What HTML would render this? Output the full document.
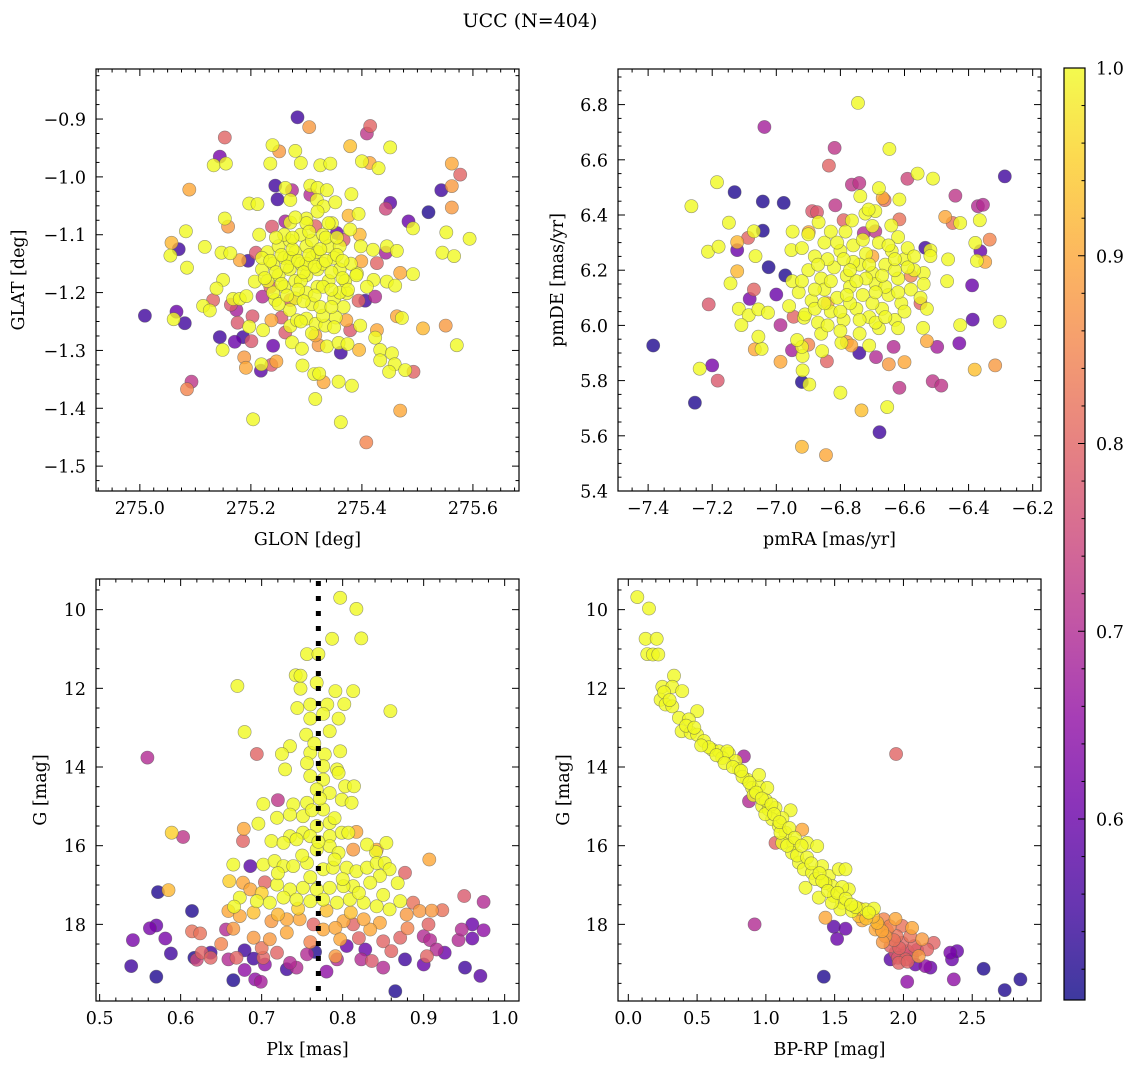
<!DOCTYPE html>
<html><head><meta charset="utf-8"><style>
html,body{margin:0;padding:0;background:#fff;}
svg{display:block;font-family:"DejaVu Serif","Liberation Serif",serif;}
</style></head><body>
<svg id="fig" width="1136" height="1068" viewBox="0 0 1136 1068" xmlns="http://www.w3.org/2000/svg">
<defs><linearGradient id="cbgrad" x1="0" y1="1" x2="0" y2="0"></linearGradient></defs>
<text x="530" y="27" font-size="19" text-anchor="middle">UCC (N=404)</text>
</svg>
<script>
// ---------- data: [x, y, membership probability] ----------
const glonGlatPoints = [
[275.284,-0.897,.55],[275.305,-0.914,.88],[275.415,-0.912,.8],[275.409,-0.925,.72],[275.153,-0.932,.8],[275.144,-0.965,.62],
[275.239,-0.945,1],[275.251,-0.956,.88],[275.28,-0.955,1],[275.379,-0.947,.93],[275.451,-0.949,1],[275.562,-0.977,.9],
[275.577,-0.996,.8],[275.562,-1.016,.88],[275.543,-1.023,.55],[275.562,-1.053,.88],[275.52,-1.061,.52],[275.133,-0.98,1],
[275.155,-0.977,1],[275.235,-0.977,1],[275.29,-0.976,1],[275.325,-0.98,1],[275.343,-0.977,1],[275.4,-0.973,1],[275.414,-0.976,.9],
[275.43,-0.985,1],[275.089,-1.022,.9],[275.244,-1.015,.55],[275.262,-1.019,1],[275.274,-1.023,.7],[275.248,-1.039,.55],
[275.271,-1.04,1],[275.307,-1.015,1],[275.32,-1.019,1],[275.337,-1.023,1],[275.307,-1.031,.7],[275.319,-1.04,1],[275.331,-1.051,1],
[275.352,-1.044,1],[275.381,-1.03,1],[275.197,-1.046,1],[275.212,-1.047,1],[275.451,-1.045,.58],[275.443,-1.055,.75],
[275.484,-1.077,.6],[275.492,-1.089,1],[275.552,-1.096,1],[275.594,-1.107,1],[275.545,-1.131,1],[275.566,-1.137,1],
[275.153,-1.072,1],[275.159,-1.086,.88],[275.083,-1.094,1],[275.057,-1.114,.92],[275.07,-1.125,.55],[275.055,-1.136,1],
[275.085,-1.157,1],[275.117,-1.121,1],[275.147,-1.131,1],[275.163,-1.132,1],[275.18,-1.144,.9],[275.195,-1.145,.55],
[275.209,-1.131,.78],[275.215,-1.1,1],[275.238,-1.086,.78],[275.262,-1.077,.68],[275.271,-1.079,1],[275.3,-1.072,1],
[275.316,-1.085,.8],[275.346,-1.08,1],[275.376,-1.067,.92],[275.394,-1.064,1],[275.379,-1.091,1],[275.396,-1.1,.92],
[275.355,-1.097,.6],[275.367,-1.109,.78],[275.398,-1.12,1],[275.42,-1.126,1],[275.445,-1.12,1],[275.463,-1.128,1],
[275.443,-1.131,.68],[275.427,-1.149,.8],[275.399,-1.146,.9],[275.391,-1.167,1],[275.469,-1.166,.9],[275.492,-1.168,1],
[275.445,-1.181,1],[275.46,-1.188,1],[275.421,-1.178,1],[275.409,-1.19,1],[275.424,-1.207,.7],[275.406,-1.214,.55],
[275.394,-1.214,.8],[275.373,-1.201,1],[275.367,-1.225,1],[275.15,-1.178,1],[275.138,-1.193,1],[275.132,-1.213,.8],
[275.114,-1.223,1],[275.126,-1.231,1],[275.168,-1.211,1],[275.18,-1.211,1],[275.164,-1.221,.78],[275.174,-1.23,.68],
[275.192,-1.206,1],[275.221,-1.207,.7],[275.207,-1.181,1],[275.235,-1.19,.8],[275.244,-1.213,1],[275.271,-1.213,.8],
[275.009,-1.24,.55],[275.066,-1.233,.6],[275.061,-1.246,1],[275.081,-1.253,.55],[275.176,-1.252,.78],[275.203,-1.241,.78],
[275.197,-1.259,1],[275.144,-1.277,.55],[275.171,-1.285,.6],[275.186,-1.277,.55],[275.201,-1.284,.78],[275.149,-1.299,1],
[275.222,-1.265,1],[275.237,-1.248,.9],[275.255,-1.243,.78],[275.24,-1.292,.6],[275.271,-1.258,1],[275.262,-1.269,.78],
[275.274,-1.286,1],[275.292,-1.297,1],[275.283,-1.248,1],[275.3,-1.245,1],[275.317,-1.254,1],[275.316,-1.274,.9],
[275.322,-1.291,.88],[275.337,-1.293,1],[275.334,-1.257,1],[275.353,-1.243,1],[275.372,-1.248,.9],[275.379,-1.265,.78],
[275.397,-1.257,1],[275.358,-1.287,1],[275.374,-1.289,1],[275.362,-1.304,.55],[275.395,-1.299,.92],[275.427,-1.265,.9],
[275.424,-1.278,1],[275.433,-1.299,1],[275.433,-1.317,1],[275.454,-1.305,1],[275.459,-1.324,1],[275.449,-1.337,1],
[275.478,-1.334,1],[275.493,-1.337,.8],[275.463,-1.241,.9],[275.472,-1.244,1],[275.51,-1.262,.92],[275.551,-1.257,.88],
[275.571,-1.291,1],[275.188,-1.312,.88],[275.191,-1.33,.9],[275.219,-1.324,1],[275.218,-1.335,.58],[275.237,-1.325,.78],
[275.246,-1.319,.9],[275.293,-1.326,1],[275.314,-1.341,1],[275.323,-1.34,1],[275.331,-1.355,.9],[275.358,-1.354,1],
[275.382,-1.361,1],[275.316,-1.384,1],[275.093,-1.354,.72],[275.085,-1.367,.85],[275.469,-1.404,.9],[275.204,-1.419,1],
[275.362,-1.424,1],[275.408,-1.459,.85],
[275.22,-1.16,1],[275.23,-1.13,1],[275.24,-1.15,1],[275.25,-1.12,1],[275.25,-1.17,1],[275.26,-1.14,1],[275.26,-1.19,1],
[275.27,-1.11,1],[275.27,-1.16,1],[275.28,-1.13,1],[275.28,-1.18,1],[275.28,-1.21,1],[275.29,-1.10,1],[275.29,-1.15,1],
[275.30,-1.12,1],[275.30,-1.17,1],[275.30,-1.20,1],[275.31,-1.14,1],[275.31,-1.11,1],[275.32,-1.16,1],[275.32,-1.19,1],
[275.32,-1.13,1],[275.33,-1.10,1],[275.33,-1.15,1],[275.34,-1.12,1],[275.34,-1.18,1],[275.35,-1.14,1],[275.35,-1.21,1],
[275.36,-1.16,1],[275.36,-1.12,1],[275.37,-1.18,1],[275.38,-1.15,1],[275.27,-1.23,1],[275.31,-1.22,1],[275.33,-1.24,1],
[275.29,-1.25,1],[275.24,-1.20,1],[275.23,-1.18,1],[275.26,-1.10,1],[275.30,-1.08,1],[275.34,-1.08,1],[275.36,-1.20,1],
[275.25,-1.22,1],[275.22,-1.14,1],[275.39,-1.17,1],[275.35,-1.26,1],[275.31,-1.27,1],[275.28,-1.07,1],[275.32,-1.06,1],
[275.30,-1.15,1],[275.33,-1.19,1],[275.27,-1.14,1],[275.29,-1.18,1],
[275.235,-1.145,1],[275.245,-1.165,1],[275.255,-1.135,1],[275.265,-1.155,1],[275.275,-1.125,1],[275.285,-1.145,1],
[275.295,-1.165,1],[275.305,-1.135,1],[275.315,-1.155,1],[275.325,-1.125,1],[275.335,-1.145,1],[275.345,-1.165,1],
[275.355,-1.135,1],[275.365,-1.175,1],[275.255,-1.185,1],[275.285,-1.195,1],[275.315,-1.205,1],[275.345,-1.195,1],
[275.275,-1.105,1],[275.305,-1.095,1],[275.335,-1.105,1],[275.365,-1.145,1],[275.225,-1.175,1],[275.295,-1.215,1],
[275.325,-1.225,1],[275.265,-1.205,1],[275.345,-1.225,1],[275.375,-1.195,1],[275.245,-1.105,1],[275.355,-1.105,1]
];
const pmPoints = [
[-6.745,6.806,1],[-7.037,6.719,.68],[-6.818,6.643,.72],[-6.647,6.639,1],[-6.836,6.579,.8],[-6.287,6.54,.55],[-6.591,6.531,.75],
[-6.559,6.55,1],[-6.511,6.532,1],[-7.185,6.519,1],[-6.764,6.51,.72],[-6.741,6.516,.72],[-6.68,6.497,1],[-6.668,6.462,.9],
[-6.662,6.454,.82],[-6.738,6.468,1],[-6.616,6.456,1],[-7.13,6.483,.52],[-7.042,6.449,.52],[-6.977,6.444,.52],[-7.265,6.432,1],
[-6.816,6.435,.72],[-6.441,6.47,.72],[-6.371,6.432,.7],[-6.355,6.437,.7],[-6.888,6.414,.78],[-6.873,6.41,.78],[-6.868,6.374,1],
[-7.148,6.372,1],[-7.042,6.343,.52],[-7.07,6.341,1],[-7.088,6.317,.8],[-6.949,6.34,1],[-6.899,6.338,.9],[-6.79,6.381,.8],
[-6.764,6.38,1],[-6.722,6.405,1],[-6.691,6.414,1],[-6.712,6.42,1],[-6.784,6.34,1],[-6.691,6.341,.72],[-6.727,6.334,.7],
[-6.616,6.384,.82],[-6.641,6.362,1],[-6.473,6.393,.9],[-6.45,6.371,.82],[-6.426,6.371,1],[-6.365,6.381,1],[-6.334,6.311,.85],
[-6.379,6.299,1],[-6.363,6.269,.6],[-6.374,6.234,1],[-6.348,6.23,.9],[-6.464,6.239,1],[-6.467,6.16,1],[-6.54,6.19,1],
[-6.535,6.281,.55],[-6.519,6.272,1],[-6.519,6.251,1],[-6.389,6.145,.6],[-6.387,6.021,.58],[-6.303,6.013,1],[-6.426,6.001,1],
[-6.429,5.935,.62],[-6.542,5.991,1],[-6.53,5.943,.9],[-6.498,5.922,.68],[-6.381,5.84,.93],[-6.317,5.855,.88],[-6.512,5.798,.72],
[-6.485,5.782,.72],[-6.616,5.774,.72],[-6.6,5.867,.9],[-6.649,5.859,.88],[-6.634,5.922,.7],[-6.689,5.885,.7],[-6.741,5.9,.55],
[-6.71,5.927,1],[-6.766,5.927,.9],[-6.797,5.937,1],[-6.8,5.756,1],[-6.734,5.692,.93],[-6.654,5.704,1],[-6.678,5.613,.55],
[-6.92,5.56,.92],[-6.845,5.53,.9],[-6.92,5.795,.52],[-6.897,5.786,1],[-6.918,5.837,1],[-6.918,5.889,1],[-6.92,5.922,1],
[-6.951,5.91,.68],[-6.935,5.947,1],[-6.857,5.907,1],[-6.842,5.87,.8],[-6.987,5.868,.9],[-7.067,5.913,.9],[-7.046,5.915,1],
[-7.056,5.959,1],[-7.183,5.8,.78],[-7.2,5.855,.62],[-7.239,5.843,1],[-7.254,5.72,.52],[-7.384,5.927,.52],[-7.211,6.076,.78],
[-7.083,6.096,.62],[-7.07,6.13,.8],[-7.117,6.06,1],[-7.086,6.037,1],[-7.109,6.001,1],[-7.056,6.058,1],[-7.026,6.046,1],
[-6.987,6.001,.7],[-7.0,6.112,.6],[-7.024,6.211,.52],[-6.972,6.181,.52],[-7.122,6.196,.92],[-7.143,6.152,1],[-7.065,6.251,1],
[-7.122,6.302,.92],[-7.122,6.273,.6],[-7.213,6.267,1],[-7.18,6.285,1],[-6.953,6.273,1],[-6.946,6.031,.8],[-6.914,6.028,1],
[-6.84,6.08,.9],[-6.7,6.25,.9],[-6.58,6.18,.85],[-6.55,6.08,.8],[-6.78,5.94,.88],[-6.9,5.93,.85],
[-6.92,6.28,1],[-6.88,6.25,1],[-6.85,6.3,1],[-6.80,6.27,1],[-6.76,6.29,1],[-6.72,6.26,1],[-6.68,6.3,1],[-6.64,6.27,1],
[-6.60,6.24,1],[-6.57,6.2,1],[-6.9,6.2,1],[-6.86,6.17,1],[-6.82,6.21,1],[-6.78,6.18,1],[-6.74,6.22,1],[-6.7,6.19,1],
[-6.66,6.22,1],[-6.62,6.17,1],[-6.58,6.13,1],[-6.93,6.12,1],[-6.89,6.09,1],[-6.85,6.13,1],[-6.81,6.1,1],[-6.77,6.14,1],
[-6.73,6.11,1],[-6.69,6.15,1],[-6.65,6.11,1],[-6.61,6.08,1],[-6.55,6.1,1],[-6.91,6.04,1],[-6.87,6.01,1],[-6.83,6.05,1],
[-6.79,6.02,1],[-6.75,6.06,1],[-6.71,6.03,1],[-6.67,6.06,1],[-6.63,6.02,1],[-6.86,5.97,1],[-6.8,5.98,1],[-6.74,5.97,1],
[-6.68,5.99,1],[-6.62,5.99,1],[-6.95,6.16,1],[-6.83,6.34,1],[-6.7,6.36,1],[-6.62,6.32,1],[-6.54,6.15,1],[-6.53,6.06,1],
[-6.9,6.33,1],[-6.77,6.08,1],[-6.72,6.17,1],[-6.84,6.24,1],[-6.66,6.14,1],[-6.8,6.05,1],[-6.76,6.23,1],[-6.88,6.13,1],
[-6.59,6.28,1],[-6.96,6.07,1],[-6.69,6.01,1],[-6.63,6.2,1],
[-6.87,6.22,1],[-6.83,6.16,1],[-6.79,6.24,1],[-6.75,6.16,1],[-6.71,6.22,1],[-6.67,6.18,1],[-6.63,6.24,1],[-6.59,6.21,1],
[-6.88,6.06,1],[-6.84,6.0,1],[-6.78,6.11,1],[-6.74,6.02,1],[-6.7,6.08,1],[-6.66,6.03,1],[-6.62,6.12,1],[-6.92,6.16,1],
[-6.81,6.3,1],[-6.73,6.31,1],[-6.65,6.29,1],[-6.77,6.2,1],[-6.69,6.12,1],[-6.85,6.08,1],[-6.57,6.25,1],[-6.6,6.05,1]
];
const plxGPoints = [
[0.797,9.70,1],[0.817,9.98,1],[0.787,10.74,1],[0.823,10.73,1],[0.756,11.13,1],[0.770,11.13,1],[0.742,11.67,1],[0.748,11.68,1],
[0.768,11.86,1],[0.748,12.01,1],[0.670,11.94,1],[0.791,12.07,1],[0.813,12.07,1],[0.859,12.58,1],[0.744,12.5,1],[0.76,12.41,1],
[0.781,12.41,1],[0.776,12.65,1],[0.795,12.77,1],[0.76,12.77,1],[0.802,12.4,1],[0.679,13.11,1],[0.755,13.18,1],[0.784,13.09,1],
[0.735,13.47,1],[0.725,13.67,1],[0.694,13.67,.8],[0.559,13.76,.7],[0.76,13.64,1],[0.778,13.68,1],[0.797,13.6,1],[0.729,14.06,1],
[0.756,13.9,1],[0.776,13.98,1],[0.793,14.06,1],[0.76,14.23,1],[0.776,14.32,1],[0.795,14.15,1],[0.803,14.49,1],[0.814,14.49,1],
[0.768,14.57,1],[0.784,14.66,1],[0.799,14.83,1],[0.811,14.91,1],[0.739,14.95,1],[0.756,14.91,1],[0.702,14.94,1],[0.72,14.84,.72],
[0.776,15.08,1],[0.751,15.25,1],[0.735,15.21,1],[0.719,15.29,1],[0.696,15.44,1],[0.784,15.42,1],[0.768,15.5,1],[0.751,15.67,1],
[0.735,15.76,1],[0.712,15.88,1],[0.727,15.93,1],[0.743,15.84,1],[0.76,15.76,1],[0.784,15.76,1],[0.799,15.67,1],[0.807,15.67,1],
[0.817,15.65,.9],[0.841,16.16,1],[0.854,15.93,1],[0.589,15.67,.95],[0.603,15.78,.72],[0.678,15.57,.9],[0.677,15.88,.8],
[0.784,16.01,1],[0.795,16.18,1],[0.768,16.1,1],[0.83,15.97,1],[0.842,16.1,.9],[0.813,16.1,.88],[0.907,16.35,.9],[0.665,16.48,1],
[0.686,16.52,.58],[0.702,16.48,1],[0.716,16.39,1],[0.727,16.52,1],[0.739,16.52,1],[0.756,16.44,1],[0.776,16.6,1],[0.788,16.56,1],
[0.805,16.56,1],[0.817,16.65,1],[0.83,16.56,1],[0.842,16.44,1],[0.852,16.44,1],[0.858,16.6,1],[0.846,16.77,1],[0.834,16.94,1],
[0.813,17.03,1],[0.801,17.03,1],[0.784,17.07,1],[0.768,17.11,1],[0.751,17.07,1],[0.735,17.11,1],[0.719,16.99,1],[0.704,16.93,.8],
[0.877,16.69,.8],[0.677,16.94,.9],[0.686,17.11,.9],[0.585,17.13,.92],[0.572,17.18,.52],[0.673,17.32,1],[0.694,17.41,1],
[0.71,17.45,1],[0.727,17.32,1],[0.743,17.37,1],[0.76,17.41,1],[0.776,17.37,1],[0.793,17.45,1],[0.809,17.37,1],[0.826,17.45,1],
[0.842,17.54,1],[0.858,17.62,1],[0.871,17.41,1],[0.666,17.55,1],[0.659,17.66,.9],[0.673,17.79,.9],[0.614,17.66,.52],
[0.95,17.28,.78],[0.974,17.43,.7],[0.887,17.45,.82],[0.895,17.66,.88],[0.91,17.65,.88],[0.923,17.64,.82],[0.879,17.75,.88],
[0.846,17.96,.9],[0.834,18.13,.9],[0.826,17.87,.9],[0.801,17.92,.9],[0.712,17.92,.88],[0.731,17.87,.9],[0.747,17.87,.9],
[0.57,18.03,.6],[0.562,18.1,.62],[0.581,18.36,.62],[0.541,18.4,.62],[0.614,18.18,.82],[0.624,18.23,.82],[0.656,18.13,.7],
[0.665,18.11,.88],[0.69,18.34,.88],[0.71,18.38,.88],[0.731,18.21,.9],[0.764,18.0,.8],[0.776,18.13,.9],[0.791,18.09,.9],
[0.797,18.38,.9],[0.813,18.0,.8],[0.85,18.43,.8],[0.871,18.34,.8],[0.9,18.3,.7],[0.906,18.0,.8],[0.908,18.4,.7],[0.943,18.4,.7],
[0.947,18.13,.7],[0.96,18.0,.6],[0.974,18.15,.65],[0.96,18.36,.6],[0.588,18.74,.55],[0.617,18.85,.52],[0.626,18.72,.8],
[0.637,18.85,.8],[0.637,18.72,.55],[0.659,18.89,.7],[0.669,18.85,.8],[0.679,18.66,.55],[0.69,18.87,.55],[0.702,18.85,.8],
[0.704,19.02,.65],[0.719,18.72,.8],[0.731,19.14,.55],[0.743,19.1,.7],[0.756,18.76,.7],[0.766,18.7,.52],[0.791,18.81,.88],
[0.793,18.89,.7],[0.805,18.55,.6],[0.828,18.64,.6],[0.823,18.89,.7],[0.836,18.93,.78],[0.86,18.68,.8],[0.877,18.89,.55],
[0.9,19.02,.6],[0.904,18.81,.8],[0.916,18.64,.7],[0.926,18.72,.6],[0.539,19.06,.55],[0.57,19.33,.52],[0.665,19.42,.52],
[0.679,19.16,.65],[0.692,19.4,.65],[0.699,19.46,.68],[0.951,19.1,.55],[0.97,19.31,.58],[0.865,19.7,.52],[0.735,18.98,.7],
[0.765,13.4,1],[0.772,14.8,1],[0.762,15.1,1],[0.79,15.3,1],[0.77,15.9,1],[0.75,16.25,1],[0.79,16.35,1],[0.72,16.7,1],
[0.76,16.8,1],[0.8,16.85,1],[0.7,17.2,.95],[0.82,17.2,1],[0.745,17.6,.95],[0.78,17.65,.93],[0.81,17.7,.93],[0.69,17.7,.93],
[0.72,17.75,.92],[0.66,16.9,.95],[0.85,17.25,1],[0.868,16.95,1],[0.76,18.45,.85],[0.7,18.6,.82],[0.65,18.5,.85],[0.82,18.35,.8],
[0.88,18.1,.85],[0.62,18.9,.75],[0.78,19.2,.65],[0.85,19.1,.7]
];
const cmdPoints = [
[0.065,9.68,1],[0.15,9.97,1],[0.126,10.74,1],[0.206,10.74,1],[0.138,11.13,1],[0.179,11.14,1],[0.218,11.14,1],[0.332,11.68,1],
[0.247,11.96,1],[0.32,11.96,1],[0.392,12.07,1],[0.235,12.29,1],[0.271,12.41,1],[0.32,12.46,1],[0.501,12.58,1],[0.368,12.75,1],
[0.44,12.79,1],[0.387,13.09,1],[0.453,13.13,1],[0.501,13.18,1],[0.55,13.34,1],[0.61,13.56,1],[0.659,13.6,1],[0.731,13.66,1],
[0.683,13.77,1],[0.78,13.85,1],[0.84,13.73,.68],[0.804,14.06,1],[0.864,14.32,1],[0.90,14.53,1],[0.949,14.49,1],[1.01,14.53,1],
[0.877,14.87,.7],[0.973,15.0,1],[1.02,15.08,1],[1.07,15.04,1],[1.18,15.1,1],[1.046,15.33,1],[1.094,15.5,1],[1.143,15.67,1],
[1.07,15.93,.8],[1.119,15.93,1],[1.2,15.93,1],[1.264,15.59,.9],[1.3,15.93,1],[1.373,16.01,1],[1.19,16.18,1],[1.24,16.43,1],
[1.276,16.6,1],[1.336,16.69,1],[1.409,16.52,1],[1.458,16.77,1],[1.53,16.6,1],[1.579,16.6,1],[1.482,17.03,1],[1.288,17.07,1],
[1.385,17.32,1],[1.494,17.28,1],[1.554,17.45,1],[1.603,17.11,1],[1.542,17.62,1],[1.627,17.66,1],[1.676,17.79,.93],[1.724,17.62,1],
[1.785,17.6,1],[1.433,17.83,.9],[1.494,18.06,.58],[1.579,18.11,.6],[1.518,18.37,.6],[1.421,19.33,.52],[0.918,18.0,.7],
[1.947,13.67,.8],[1.797,18.13,.9],[1.857,17.87,.85],[1.942,17.86,.9],[1.99,18.04,.82],[2.063,18.09,.9],[2.136,18.38,.88],
[2.22,18.47,.8],[1.869,18.3,.88],[1.906,18.55,.8],[1.942,18.72,.78],[1.99,18.47,.8],[2.027,18.68,.78],[2.015,18.89,.8],
[2.063,18.81,.7],[2.087,19.02,.6],[2.111,18.81,.88],[2.16,19.06,.65],[2.196,19.1,.6],[2.172,18.64,.8],[1.906,18.89,.58],
[1.966,18.98,.8],[2.03,18.95,.8],[2.341,18.72,.62],[2.39,18.68,.6],[2.353,18.89,.6],[2.366,19.4,.65],[2.027,19.46,.65],
[2.583,19.13,.52],[2.85,19.4,.52],[2.736,19.67,.52],[1.748,17.7,1],[1.809,17.96,.92],[1.845,18.17,.9],
[0.586,13.5,1],[0.719,13.6,1],[0.83,14.25,1],[0.91,14.72,1],[0.996,15.2,1],[1.106,15.67,1],[1.155,16.0,1],[1.227,16.25,1],
[1.36,16.85,1],[1.433,16.95,1],[1.555,17.05,1],[1.652,17.56,1],[1.48,17.45,1],[1.0,14.85,1],[1.12,15.3,1],[0.95,14.2,1],
[1.7,17.9,.9],[1.88,18.15,.85],[1.95,18.3,.82],[2.08,18.55,.8],[1.85,18.45,.88],[2.0,18.75,.75],
[0.26,12.1,1],[0.3,12.3,1],[0.42,12.95,1],[0.48,13.0,1],[0.53,13.45,1],[0.64,13.7,1],[0.7,13.9,1],[0.76,14.0,1],
[0.82,14.1,1],[0.88,14.4,1],[0.93,14.65,1],[0.97,14.8,1],[1.04,14.95,1],[1.06,15.2,1],[1.1,15.4,1],[1.17,15.55,1],
[1.21,15.8,1],[1.26,16.0,1],[1.3,16.3,1],[1.33,16.45,1],[1.39,16.7,1],[1.41,16.9,1],[1.45,17.15,1],[1.52,17.2,1],
[1.58,17.35,1],[1.62,17.5,1],[1.68,17.6,.95],[1.73,17.85,.93],[1.78,17.8,.92],[1.82,18.05,.88],[1.9,18.05,.85],
[1.93,18.4,.82],[2.05,18.3,.82],[1.97,18.6,.8],[2.1,18.65,.75],[1.96,18.85,.78]
];
// axis tick values
const tlXTicks = [275.0,275.2,275.4,275.6];
const tlYTicks = [-1.5,-1.4,-1.3,-1.2,-1.1,-1.0,-0.9];
const trXTicks = [-7.4,-7.2,-7.0,-6.8,-6.6,-6.4,-6.2];
const trYTicks = [5.4,5.6,5.8,6.0,6.2,6.4,6.6,6.8];
const blXTicks = [0.5,0.6,0.7,0.8,0.9,1.0];
const gTicks = [10,12,14,16,18];
const brXTicks = [0.0,0.5,1.0,1.5,2.0,2.5];
const cbTicks = [0.6,0.7,0.8,0.9,1.0];
const plxRef = 0.77;

const NS = "http://www.w3.org/2000/svg";
const svg = document.getElementById('fig');
function mk(tag, attrs, parent){ const e=document.createElementNS(NS,tag); for(const k in attrs) e.setAttribute(k,attrs[k]); (parent||svg).appendChild(e); return e; }

const plasma = ["#0d0887","#41049d","#6a00a8","#8f0da4","#b12a90","#cc4778","#e16462","#f2844b","#fca636","#fcce25","#f0f921"];
const VMIN=0.5036, VMAX=1.0;
function hex(c){return [parseInt(c.slice(1,3),16),parseInt(c.slice(3,5),16),parseInt(c.slice(5,7),16)];}
function cmap(t){ t=Math.max(0,Math.min(1,t)); const f=t*10, i=Math.min(9,Math.floor(f)), r=f-i; const a=hex(plasma[i]), b=hex(plasma[i+1]);
  return 'rgb('+a.map((v,k)=>Math.round(v+(b[k]-v)*r)).join(',')+')'; }
function pcol(p){ return cmap((p-VMIN)/(VMAX-VMIN)); }
function fmt(v,d){ const s=Math.abs(v).toFixed(d); return (v<0?'\u2212':'')+s; }

function panel(cfg){
  const g=mk('g',{});
  
  
  const {x0,x1,y0,y1}=cfg;
  const sx=v=>x0+(v-cfg.xlim[0])/(cfg.xlim[1]-cfg.xlim[0])*(x1-x0);
  const sy=v=>y1-(v-cfg.ylim[0])/(cfg.ylim[1]-cfg.ylim[0])*(y1-y0);
  const cp='clip-'+cfg.name;
  const cl=mk('clipPath',{id:cp},g); mk('rect',{x:x0,y:y0,width:x1-x0,height:y1-y0},cl);
  const pg=mk('g',{'clip-path':'url(#'+cp+')'},g);
  const pts=cfg.points.slice().sort((a,b)=>a[2]-b[2]);
  for(const p of pts){
    const c=mk('circle',{cx:sx(p[0]).toFixed(1),cy:sy(p[1]).toFixed(1),r:6.6,fill:pcol(p[2]),'fill-opacity':0.8,stroke:'#555','stroke-opacity':0.6,'stroke-width':0.6},pg);
    
    
  }
  if(cfg.vline!==undefined){
    const l=mk('line',{x1:sx(cfg.vline),x2:sx(cfg.vline),y1:y0+2,y2:y1,stroke:'#000','stroke-width':5,'stroke-dasharray':'5 10'},pg);
    
    
  }
  const tg=mk('g',{stroke:'#000','stroke-width':1},g);
  const xr=[Math.min(...cfg.xlim),Math.max(...cfg.xlim)], yr=[Math.min(...cfg.ylim),Math.max(...cfg.ylim)];
  const eps=1e-9;
  for(let v=Math.ceil(xr[0]/cfg.xminor-eps)*cfg.xminor; v<=xr[1]+eps; v+=cfg.xminor){
    const X=sx(v); const maj=cfg.xticks.some(t=>Math.abs(t-v)<cfg.xminor/3); const L=maj?7:3.5;
    mk('line',{x1:X,x2:X,y1:y1,y2:y1-L},tg); mk('line',{x1:X,x2:X,y1:y0,y2:y0+L},tg);
  }
  for(let v=Math.ceil(yr[0]/cfg.yminor-eps)*cfg.yminor; v<=yr[1]+eps; v+=cfg.yminor){
    const Y=sy(v); const maj=cfg.yticks.some(t=>Math.abs(t-v)<cfg.yminor/3); const L=maj?7:3.5;
    mk('line',{x1:x0,x2:x0+L,y1:Y,y2:Y},tg); mk('line',{x1:x1,x2:x1-L,y1:Y,y2:Y},tg);
  }
  const fr=mk('rect',{x:x0,y:y0,width:x1-x0,height:y1-y0,fill:'none',stroke:'#000','stroke-width':1.2},g);
  
  
  for(const t of cfg.xticks){
    const e=mk('text',{x:sx(t),y:y1+23,'font-size':17.5,'text-anchor':'middle'},g); e.textContent=fmt(t,cfg.xdec);
    
    
  }
  for(const t of cfg.yticks){
    const e=mk('text',{x:x0-10,y:sy(t)+6.5,'font-size':17.5,'text-anchor':'end'},g); e.textContent=fmt(t,cfg.ydec);
    
    
  }
  const xl=mk('text',{x:(x0+x1)/2,y:y1+54,'font-size':17.5,'text-anchor':'middle'},g); xl.textContent=cfg.xlabel;
  
  
  const yl=mk('text',{x:0,y:0,'font-size':17.5,'text-anchor':'middle',transform:'translate('+cfg.ylx+','+((y0+y1)/2)+') rotate(-90)'},g); yl.textContent=cfg.ylabel;
  
  
}

panel({name:'glon-glat-panel',x0:96,x1:519,y0:69,y1:491,xlim:[274.921,275.683],ylim:[-1.543,-0.8135],points:glonGlatPoints,
  xticks:tlXTicks,yticks:tlYTicks,xminor:0.025,yminor:0.025,xdec:1,ydec:1,xlabel:'GLON [deg]',ylabel:'GLAT [deg]',ylx:24});
panel({name:'proper-motion-panel',x0:618,x1:1041,y0:69,y1:491,xlim:[-7.494,-6.174],ylim:[5.4,6.929],points:pmPoints,
  xticks:trXTicks,yticks:trYTicks,xminor:0.05,yminor:0.05,xdec:1,ydec:1,xlabel:'pmRA [mas/yr]',ylabel:'pmDE [mas/yr]',ylx:563});
panel({name:'parallax-magnitude-panel',x0:96,x1:519,y0:579,y1:1001,xlim:[0.4955,1.0177],ylim:[19.948,9.221],points:plxGPoints,vline:plxRef,
  xticks:blXTicks,yticks:gTicks,xminor:0.02,yminor:0.5,xdec:1,ydec:0,xlabel:'Plx [mas]',ylabel:'G [mag]',ylx:46});
panel({name:'color-magnitude-panel',x0:618,x1:1041,y0:579,y1:1001,xlim:[-0.075,3.0],ylim:[19.948,9.221],points:cmdPoints,
  xticks:brXTicks,yticks:gTicks,xminor:0.1,yminor:0.5,xdec:1,ydec:0,xlabel:'BP-RP [mag]',ylabel:'G [mag]',ylx:569});

// colorbar
const grad=document.getElementById('cbgrad');
for(let i=0;i<=10;i++){ mk('stop',{offset:(i/10),'stop-color':plasma[i],'stop-opacity':0.8},grad); }
const cb=mk('g',{});


const CX0=1064,CX1=1085,CY0=68,CY1=1000;
const cy=v=>CY1-(v-VMIN)/(VMAX-VMIN)*(CY1-CY0);
mk('rect',{x:CX0,y:CY0,width:CX1-CX0,height:CY1-CY0,fill:'url(#cbgrad)'},cb);
for(let v=0.52; v<=1.0001; v+=0.02){
  const maj=cbTicks.some(t=>Math.abs(t-v)<0.005); const L=maj?7:3.5;
  mk('line',{x1:CX1,x2:CX1-L,y1:cy(v),y2:cy(v),stroke:'#000','stroke-width':1},cb);
}
mk('rect',{x:CX0,y:CY0,width:CX1-CX0,height:CY1-CY0,fill:'none',stroke:'#000','stroke-width':1.2},cb);
for(const t of cbTicks){
  const e=mk('text',{x:CX1+11,y:cy(t)+6.5,'font-size':17.5},cb); e.textContent=t.toFixed(1);
  
  
}
</script>
</body></html>
